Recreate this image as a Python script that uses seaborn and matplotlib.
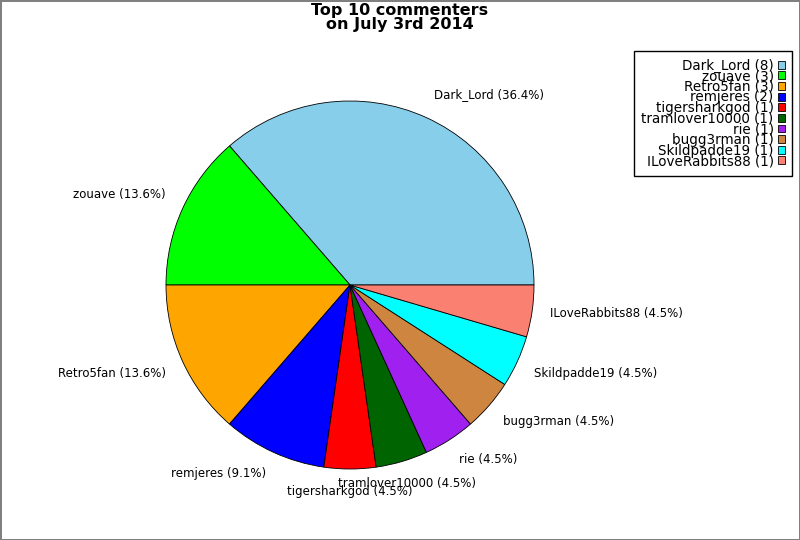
import matplotlib
matplotlib.use("Agg")
import matplotlib.pyplot as plt
import seaborn as sns

# --- Data ---
users = ["Dark_Lord", "zouave", "Retro5fan", "remjeres", "tigersharkgod",
         "tramlover10000", "rie", "bugg3rman", "Skildpadde19", "ILoveRabbits88"]
counts = [8, 3, 3, 2, 1, 1, 1, 1, 1, 1]
colors = ["skyblue", "lime", "orange", "blue", "red",
          "darkgreen", "#a020f0", "peru", "cyan", "salmon"]

sns.set_theme(style="white")
plt.rcParams['font.family'] = ['DejaVu Sans']
plt.rcParams['text.color'] = 'black'

total = sum(counts)
slice_labels = [f"{u} ({c / total * 100:.1f}%)" for u, c in zip(users, counts)]
legend_labels = [f"{u} ({c})" for u, c in zip(users, counts)]

fig = plt.figure(figsize=(8, 5.4), dpi=100, facecolor="white",
                 edgecolor="gray", linewidth=1)

# pie centre ~ (350, 285) px, radius ~184 px
ax = fig.add_axes([150 / 800, 55 / 540, 400 / 800, 400 / 540])
wedges, texts = ax.pie(counts, labels=slice_labels,
                       colors=sns.color_palette(colors),
                       startangle=0, counterclock=True,
                       wedgeprops=dict(edgecolor="black", linewidth=0.6),
                       textprops=dict(fontsize=8.5, color="black"))
lim = 200 / 184
ax.set_xlim(-lim, lim)
ax.set_ylim(-lim, lim)
ax.set_aspect("equal")
ax.axis("off")

# label anchoring: centred near the vertical, pushed away from the pie
for t in texts:
    x, y = t.get_position()
    if abs(x) < 0.4:
        t.set_ha("center")
    else:
        t.set_ha("left" if x > 0 else "right")
    if y > 0.3:
        t.set_va("bottom")
    elif y < -0.3:
        t.set_va("top")
        t.set_y(y + 0.012)
    else:
        t.set_va("center")

fig.suptitle("Top 10 commenters\non July 3rd 2014", fontsize=11.5,
             fontweight="bold", y=0.995, linespacing=0.9, color="black")

leg = fig.legend(wedges, legend_labels, loc="upper right",
                 bbox_to_anchor=(792 / 800, 1 - 51 / 540),
                 markerfirst=False, fontsize=9.75, labelspacing=-0.25,
                 handlelength=0.45, handleheight=0.52, handletextpad=0.35,
                 borderpad=0.55, borderaxespad=0, fancybox=False,
                 frameon=True, edgecolor="black", framealpha=1)
for t in leg.get_texts():
    t.set_ha("right")
leg.get_frame().set_linewidth(1)

fig.savefig("out.png", dpi=100, edgecolor=fig.get_edgecolor())
